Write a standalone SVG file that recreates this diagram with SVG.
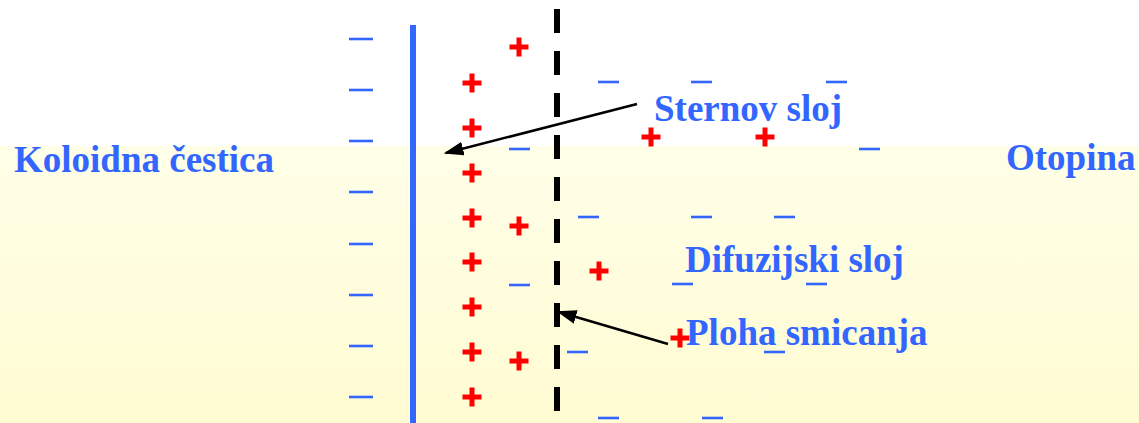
<svg xmlns="http://www.w3.org/2000/svg" xmlns:xlink="http://www.w3.org/1999/xlink" width="1139" height="423" viewBox="0 0 1139 423">
<defs>
<linearGradient id="bg" x1="0" y1="0" x2="0" y2="1">
<stop offset="0" stop-color="#FFFFE8"/>
<stop offset="1" stop-color="#FFFBD2"/>
</linearGradient>
<path id="plus" d="M-9.5,0H9.5M0,-9.5V9.5" stroke="#FF0000" stroke-width="5" fill="none"/>
<path id="minus" d="M0,0H21" stroke="#3366FF" stroke-width="2.6" fill="none"/>
<path id="minusL" d="M0,0H24" stroke="#3366FF" stroke-width="2.6" fill="none"/>
<marker id="ah" markerWidth="8" markerHeight="5.6" refX="7" refY="2.8" orient="auto" markerUnits="strokeWidth">
<path d="M0,0L8,2.8L0,5.6Z" fill="#000"/>
</marker>
</defs>
<style>
.lbl{font-family:"Liberation Serif","Times New Roman",serif;font-weight:bold;font-size:37px;fill:#3366FF}
.conn{stroke:#000;stroke-width:2.5;fill:none;marker-end:url(#ah)}
</style>
<rect x="0" y="0" width="1139" height="146" fill="#FFFFFF"/>
<rect x="0" y="146" width="1139" height="277" fill="url(#bg)"/>
<g id="particle-surface">
<line x1="413" y1="25" x2="413" y2="423" stroke="#3366FF" stroke-width="6"/>
</g>
<g id="shear-plane">
<line x1="557" y1="9" x2="557" y2="423" stroke="#000" stroke-width="6" stroke-dasharray="24 18"/>
</g>
<g id="charges">
<use xlink:href="#minusL" x="349" y="39"/>
<use xlink:href="#minusL" x="349" y="90"/>
<use xlink:href="#minusL" x="349" y="141"/>
<use xlink:href="#minusL" x="349" y="192"/>
<use xlink:href="#minusL" x="349" y="244"/>
<use xlink:href="#minusL" x="349" y="295"/>
<use xlink:href="#minusL" x="349" y="346"/>
<use xlink:href="#minusL" x="349" y="397"/>
<use xlink:href="#minus" x="598" y="82"/>
<use xlink:href="#minus" x="691" y="82"/>
<use xlink:href="#minus" x="826" y="82"/>
<use xlink:href="#minus" x="509" y="149"/>
<use xlink:href="#minus" x="859" y="149"/>
<use xlink:href="#minus" x="578" y="217"/>
<use xlink:href="#minus" x="691" y="217"/>
<use xlink:href="#minus" x="774" y="217"/>
<use xlink:href="#minus" x="509" y="285"/>
<use xlink:href="#minus" x="672" y="284"/>
<use xlink:href="#minus" x="806" y="284"/>
<use xlink:href="#minus" x="567" y="352"/>
<use xlink:href="#minus" x="764" y="352"/>
<use xlink:href="#minus" x="598" y="418"/>
<use xlink:href="#minus" x="702" y="418"/>
<use xlink:href="#plus" x="472" y="83"/>
<use xlink:href="#plus" x="472" y="128"/>
<use xlink:href="#plus" x="472" y="173"/>
<use xlink:href="#plus" x="472" y="218"/>
<use xlink:href="#plus" x="472" y="262"/>
<use xlink:href="#plus" x="472" y="307"/>
<use xlink:href="#plus" x="472" y="352"/>
<use xlink:href="#plus" x="472" y="397"/>
<use xlink:href="#plus" x="519" y="47"/>
<use xlink:href="#plus" x="519" y="226"/>
<use xlink:href="#plus" x="519" y="361"/>
<use xlink:href="#plus" x="651" y="137"/>
<use xlink:href="#plus" x="765" y="137"/>
<use xlink:href="#plus" x="599" y="271"/>
<use xlink:href="#plus" x="680" y="338"/>
</g>
<g id="connectors">
<line class="conn" x1="637" y1="104" x2="446" y2="153"/>
<line class="conn" x1="668" y1="344" x2="559" y2="312"/>
</g>
<g id="label-koloidna"><text class="lbl" x="14" y="172">Koloidna čestica</text></g>
<g id="label-otopina"><text class="lbl" x="1006" y="170">Otopina</text></g>
<g id="label-sternov"><text class="lbl" x="654" y="121">Sternov sloj</text></g>
<g id="label-difuzijski"><text class="lbl" x="685" y="272">Difuzijski sloj</text></g>
<g id="label-ploha"><text class="lbl" x="686" y="345">Ploha smicanja</text></g>
</svg>
